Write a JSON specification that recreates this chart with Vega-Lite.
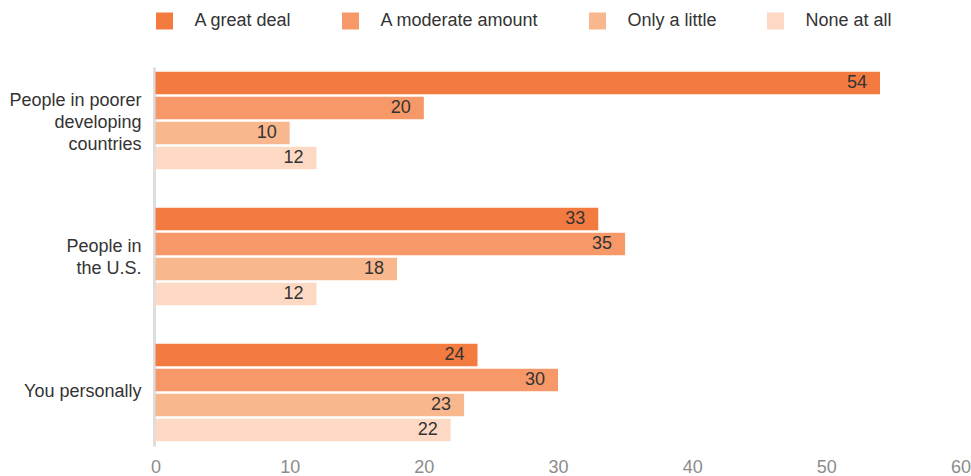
{
  "$schema": "https://vega.github.io/schema/vega-lite/v6.json",
  "width": 805,
  "height": 379,
  "autosize": {"type": "none"},
  "padding": {"left": 155.5, "top": 67, "right": 10.5, "bottom": 30},
  "background": "white",
  "config": {
    "view": {"stroke": null},
    "font": "Liberation Sans",
    "axis": {"labelFont": "Liberation Sans"},
    "legend": {"labelFont": "Liberation Sans"}
  },
  "data": {
    "values": [
      {"group": "People in poorer developing countries", "response": "A great deal", "value": 54},
      {"group": "People in poorer developing countries", "response": "A moderate amount", "value": 20},
      {"group": "People in poorer developing countries", "response": "Only a little", "value": 10},
      {"group": "People in poorer developing countries", "response": "None at all", "value": 12},
      {"group": "People in the U.S.", "response": "A great deal", "value": 33},
      {"group": "People in the U.S.", "response": "A moderate amount", "value": 35},
      {"group": "People in the U.S.", "response": "Only a little", "value": 18},
      {"group": "People in the U.S.", "response": "None at all", "value": 12},
      {"group": "You personally", "response": "A great deal", "value": 24},
      {"group": "You personally", "response": "A moderate amount", "value": 30},
      {"group": "You personally", "response": "Only a little", "value": 23},
      {"group": "You personally", "response": "None at all", "value": 22}
    ]
  },
  "encoding": {
    "y": {
      "field": "group",
      "type": "nominal",
      "sort": ["People in poorer developing countries", "People in the U.S.", "You personally"],
      "scale": {"paddingInner": 0.283, "paddingOuter": 0.035},
      "axis": {
        "title": null,
        "ticks": false,
        "grid": false,
        "domainColor": "#dddddd",
        "domainWidth": 3,
        "offset": 1.5,
        "labelFontSize": 18,
        "labelColor": "#333333",
        "labelPadding": 13,
        "labelLineHeight": 22,
        "labelLimit": 200,
        "labelOffset": {
          "condition": [
            {"test": "datum.value == 'People in poorer developing countries'", "value": -20},
            {"test": "datum.value == 'People in the U.S.'", "value": -10}
          ],
          "value": 0
        },
        "labelExpr": "datum.value == 'People in poorer developing countries' ? ['People in poorer', 'developing', 'countries'] : datum.value == 'People in the U.S.' ? ['People in', 'the U.S.'] : datum.value"
      }
    },
    "yOffset": {
      "field": "response",
      "type": "nominal",
      "sort": ["A great deal", "A moderate amount", "Only a little", "None at all"],
      "scale": {"paddingInner": 0.1, "paddingOuter": 0}
    },
    "x": {
      "field": "value",
      "type": "quantitative",
      "scale": {"domain": [0, 60], "nice": false},
      "axis": {
        "title": null,
        "values": [0, 10, 20, 30, 40, 50, 60],
        "domain": false,
        "ticks": false,
        "grid": false,
        "labelFontSize": 18,
        "labelColor": "#8c8c8c",
        "labelPadding": 12,
        "labelFlush": false
      }
    }
  },
  "layer": [
    {
      "mark": {"type": "bar", "cornerRadius": 0},
      "encoding": {
        "color": {
          "field": "response",
          "type": "nominal",
          "sort": ["A great deal", "A moderate amount", "Only a little", "None at all"],
          "scale": {
            "domain": ["A great deal", "A moderate amount", "Only a little", "None at all"],
            "range": ["#f47b40", "#f79868", "#f9b78e", "#fdd9c4"]
          },
          "legend": {
            "title": null,
            "orient": "none",
            "legendX": 0,
            "legendY": -55,
            "direction": "horizontal",
            "symbolType": "square",
            "symbolSize": 289,
            "symbolStrokeWidth": 0,
            "symbolOpacity": 1,
            "labelFontSize": 18,
            "labelColor": "#333333",
            "labelOffset": 21,
            "columnPadding": 49,
            "padding": 0,
            "labelLimit": 300
          }
        }
      }
    },
    {
      "mark": {"type": "text", "align": "right", "baseline": "middle", "dx": -13, "fontSize": 18, "color": "#333333"},
      "encoding": {
        "text": {"field": "value", "type": "quantitative"}
      }
    }
  ]
}
